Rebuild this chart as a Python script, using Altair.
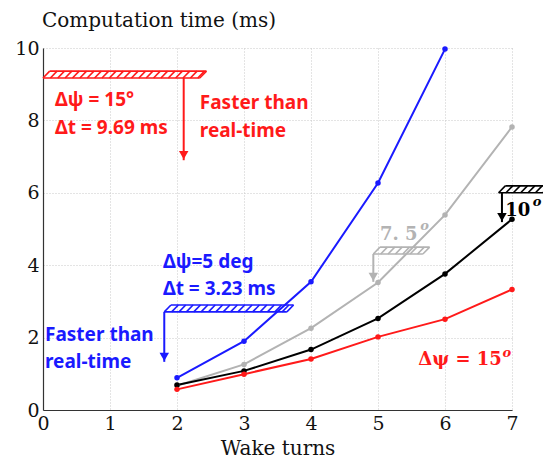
import numpy as np
import pandas as pd
import altair as alt

# ---- data ----
turns_5deg = [2, 3, 4, 5, 6]
time_5deg = [0.89, 1.90, 3.54, 6.27, 9.97]
turns_7p5deg = [2, 3, 4, 5, 6, 7]
time_7p5deg = [0.67, 1.26, 2.26, 3.52, 5.39, 7.82]
turns_10deg = [2, 3, 4, 5, 6, 7]
time_10deg = [0.69, 1.08, 1.67, 2.53, 3.76, 5.27]
turns_15deg = [2, 3, 4, 5, 6, 7]
time_15deg = [0.57, 0.99, 1.41, 2.02, 2.51, 3.33]

series_keys = ["d5", "d7.5", "d10", "d15"]
series_colors = ["#1a1aff", "#b3b3b3", "#000000", "#ff1a1a"]

x_ticks = [0, 1, 2, 3, 4, 5, 6, 7]
y_ticks = [0, 2, 4, 6, 8, 10]
x_title = "Wake turns"
y_title = "Computation time (ms)"

# real-time limit markers (hatched bars with arrows), data coords
limit_key = ["d15", "d5", "d7.5", "d10"]
limit_x0 = [0.0, 1.81, 4.93, 6.80]
limit_x1 = [2.34, 3.64, 5.67, 7.50]
limit_y = [9.17, 2.71, 4.31, 6.00]
arrow_x = [2.10, 1.81, 4.93, 6.85]
arrow_tip = [6.90, 1.33, 3.54, 5.19]
bar_h = 0.19
bar_dx = 0.10
hatch_sp = 0.11

# annotation texts (sans, bold)
note_text = ["Δψ = 15°", "Δt = 9.69 ms", "Faster than", "real-time",
             "Δψ=5 deg", "Δt = 3.23 ms", "Faster than", "real-time"]
note_key = ["d15", "d15", "d15", "d15", "d5", "d5", "d5", "d5"]
note_x = [0.18, 0.18, 2.34, 2.34, 1.79, 1.79, 0.03, 0.03]
note_y = [8.56, 7.79, 8.48, 7.71, 4.09, 3.34, 2.07, 1.33]

# math-style labels (serif)
math_text = ["Δψ = 15", "7. 5", "10"]
math_key = ["d15", "d7.5", "d10"]
math_x = [5.60, 5.03, 6.90]
math_y = [1.38, 4.83, 5.50]
sup_x = [6.86, 5.63, 7.31]
sup_y = [1.58, 5.07, 5.74]

# ---- build tables ----
rows = []
for k, xs_, ys_ in zip(series_keys, [turns_5deg, turns_7p5deg, turns_10deg, turns_15deg],
                       [time_5deg, time_7p5deg, time_10deg, time_15deg]):
    for a, b in zip(xs_, ys_):
        rows.append({"turns": a, "time": b, "s": k})
lines_df = pd.DataFrame(rows)

seg = []
for k, x0, x1, yb, ax, at in zip(limit_key, limit_x0, limit_x1, limit_y, arrow_x, arrow_tip):
    yt = yb + bar_h
    seg.append({"x": x0, "y": yb, "x2": x1, "y2": yb, "s": k})
    seg.append({"x": x0 + bar_dx, "y": yt, "x2": x1 + bar_dx, "y2": yt, "s": k})
    for xi in list(np.arange(x0, x1, hatch_sp)) + [x1]:
        seg.append({"x": xi, "y": yb, "x2": xi + bar_dx, "y2": yt, "s": k})
seg_df = pd.DataFrame(seg)

arr_df = pd.DataFrame({"x": arrow_x, "y": limit_y, "y2": arrow_tip, "s": limit_key})
notes_df = pd.DataFrame({"t": note_text, "x": note_x, "y": note_y, "s": note_key})
math_df = pd.DataFrame({"t": math_text, "x": math_x, "y": math_y, "s": math_key,
                        "sx": sup_x, "sy": sup_y, "o": ["o"] * 3})
title_df = pd.DataFrame({"t": [y_title]})

xs = alt.Scale(domain=[0, 7], nice=False, zero=False)
ys = alt.Scale(domain=[0, 10], nice=False)
cs = alt.Scale(domain=series_keys, range=series_colors)
col = alt.Color("s:N", scale=cs, legend=None)

serif = "DejaVu Serif"
sans = "Noto Sans"


def X(f):
    return alt.X(f, scale=xs, title=x_title)


def Y(f):
    return alt.Y(f, scale=ys, title=None)


lines = alt.Chart(lines_df).mark_line(strokeWidth=2).encode(
    x=alt.X("turns:Q", scale=xs, title=x_title,
            axis=alt.Axis(values=x_ticks, format="d", labelFont=serif, labelFontSize=19,
                          labelColor="#111", titleFont=serif, titleFontSize=20,
                          titleFontWeight="normal", titleColor="#111", titlePadding=5,
                          labelPadding=4, ticks=False, domainColor="#333", domainWidth=1.2,
                          gridColor="#c8c8c8", gridDash=[1, 2], labelFlush=False)),
    y=alt.Y("time:Q", scale=ys, title=None,
            axis=alt.Axis(values=y_ticks, labelFont=serif, labelFontSize=19,
                          labelColor="#111", labelPadding=4, ticks=False,
                          domainColor="#333", domainWidth=1.2,
                          gridColor="#c8c8c8", gridDash=[1, 2], labelFlush=False)),
    color=col, detail="s:N")
points = alt.Chart(lines_df).mark_circle(size=30, opacity=1).encode(
    x=X("turns:Q"), y=Y("time:Q"), color=col)

segs = alt.Chart(seg_df).mark_rule(strokeWidth=1.6).encode(
    x=X("x:Q"), y=Y("y:Q"), x2="x2:Q", y2="y2:Q", color=col)
arrows = alt.Chart(arr_df).mark_rule(strokeWidth=2).encode(
    x=X("x:Q"), y=Y("y:Q"), y2="y2:Q", color=col)
heads = alt.Chart(arr_df).mark_point(shape="triangle-down", filled=True, size=90,
                                     opacity=1, yOffset=-5).encode(
    x=X("x:Q"), y=Y("y2:Q"), color=col)

notes = alt.Chart(notes_df).mark_text(font=sans, fontSize=19, fontWeight="bold",
                                      align="left", baseline="middle").encode(
    x=X("x:Q"), y=Y("y:Q"), text="t:N", color=col)

math_main = alt.Chart(math_df).mark_text(font=serif, fontSize=18, fontWeight="bold",
                                         align="left", baseline="middle").encode(
    x=X("x:Q"), y=Y("y:Q"), text="t:N", color=col)
math_sup = alt.Chart(math_df).mark_text(font=serif, fontSize=13, fontWeight="bold",
                                        fontStyle="italic", align="left",
                                        baseline="middle").encode(
    x=X("sx:Q"), y=Y("sy:Q"), text="o:N", color=col)

ytitle = alt.Chart(title_df).mark_text(font=serif, fontSize=20, align="left",
                                       baseline="alphabetic", color="#111").encode(
    text="t:N", x=alt.value(-1), y=alt.value(-21))

chart = alt.layer(lines, points, segs, arrows, heads, notes, math_main, math_sup, ytitle).properties(
    width=469, height=362,
    autosize=alt.AutoSizeParams(type="none"),
    padding={"left": 43, "top": 48, "right": 31, "bottom": 50},
    background="white",
).configure_view(stroke=None)

chart.save("out.html", embed_options={"renderer": "svg", "actions": False})
